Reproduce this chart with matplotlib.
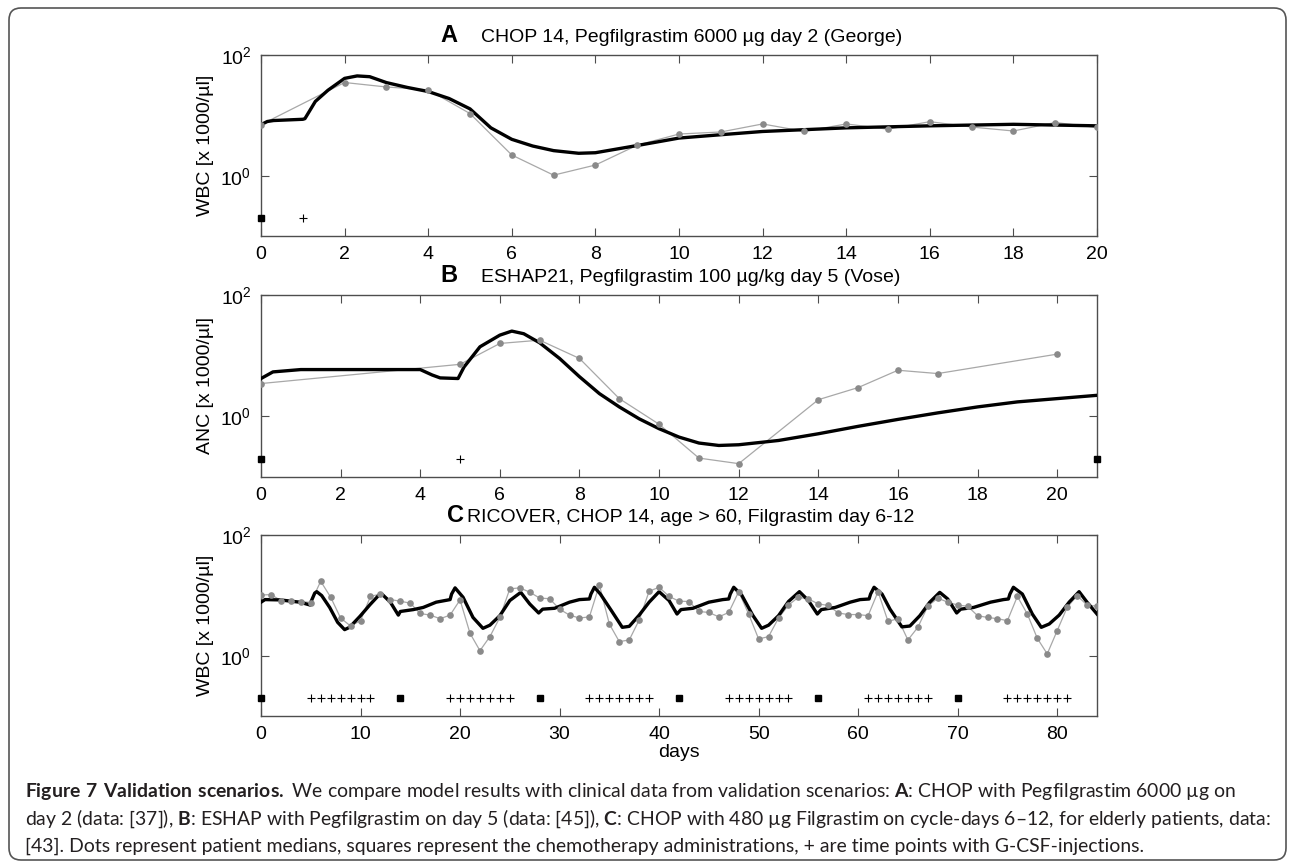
import matplotlib
matplotlib.use('Agg')
import matplotlib.pyplot as plt
from matplotlib.patches import FancyBboxPatch
from matplotlib.transforms import IdentityTransform
from matplotlib.ticker import NullLocator

plt.rcParams['font.family'] = ['Liberation Sans', 'DejaVu Sans']
plt.rcParams['mathtext.default'] = 'regular'
plt.rcParams['mathtext.fontset'] = 'custom'
plt.rcParams['mathtext.rm'] = 'Lato'
plt.rcParams['mathtext.bf'] = 'Lato:bold'

## panel A: CHOP 14 + Pegfilgrastim (George)
a_data_day = [0, 2, 3, 4, 5, 6, 7, 8, 9, 10, 11, 12, 13, 14, 15, 16, 17, 18, 19, 20]
a_data_val = [7.0, 35.0, 29.5, 26.5, 10.7, 2.2, 1.02, 1.5, 3.2, 4.9, 5.3, 7.2, 5.4, 7.2,
              5.9, 7.85, 6.4, 5.5, 7.6, 6.3]
a_model_day = [0, 0.15, 0.3, 1.0, 1.05, 1.3, 1.6, 2.0, 2.3, 2.6, 3.0, 3.5, 4.0, 4.5, 5.0,
               5.5, 6.0, 6.5, 7.0, 7.6, 8.0, 9.0, 10.0, 11.0, 12.0, 14.0, 16.0, 18.0, 20.0]
a_model_val = [7.0, 7.9, 8.2, 8.6, 8.8, 17, 26, 41, 45, 43.7, 34.9, 29, 24.8, 19, 12.8,
               6.2, 4.0, 3.1, 2.6, 2.35, 2.4, 3.16, 4.2, 4.77, 5.4, 6.2, 6.7, 7.1, 6.7]
a_chemo = [0]
a_gcsf = [1]

## panel B: ESHAP21 + Pegfilgrastim (Vose)
b_data_day = [0, 5, 6, 7, 8, 9, 10, 11, 12, 14, 15, 16, 17, 20]
b_data_val = [3.47, 7.2, 15.9, 18.0, 9.0, 1.96, 0.74, 0.205, 0.166, 1.88, 2.98, 5.75, 5.07, 10.6]
b_model_day = [0, 0.3, 1.0, 2.0, 3.0, 4.0, 4.3, 4.5, 4.95, 5.1, 5.5, 6.0, 6.3, 6.6, 7.0,
               7.5, 8.0, 8.5, 9.0, 9.5, 10.0, 10.5, 11.0, 11.5, 12.0, 13.0, 14.0, 15.0,
               16.0, 17.0, 18.0, 19.0, 20.0, 21.0]
b_model_val = [4.2, 5.4, 5.9, 5.9, 5.9, 5.9, 4.8, 4.3, 4.2, 6.5, 14, 21.8, 25.4, 23, 16.3,
               9.0, 4.5, 2.37, 1.43, 0.91, 0.625, 0.455, 0.363, 0.331, 0.34, 0.40, 0.516,
               0.684, 0.89, 1.14, 1.43, 1.73, 1.96, 2.22]
b_chemo = [0, 21]
b_gcsf = [5]

## panel C: RICOVER, CHOP 14, age > 60, Filgrastim day 6-12
c_data_day = list(range(85))
c_data_val = [10.1, 10.3, 8.2, 8.0, 7.9, 7.6, 17.1, 9.3, 4.2, 3.1,
              3.8, 9.6, 10.5, 8.5, 8.0, 7.4, 5.0, 4.7, 4.1, 4.7,
              8.4, 2.35, 1.21, 2.07, 4.3, 12.8, 13.3, 11.3, 9.0, 8.8,
              5.9, 4.7, 4.2, 4.4, 14.9, 3.35, 1.71, 1.82, 3.9, 11.7,
              13.6, 9.6, 8.0, 7.9, 5.4, 5.2, 4.4, 5.2, 11.5, 4.9,
              1.89, 2.07, 4.2, 6.9, 9.3, 8.7, 7.2, 6.8, 5.1, 4.8,
              4.8, 4.6, 11.5, 3.7, 4.1, 1.82, 2.95, 6.6, 9.0, 7.7,
              6.9, 6.6, 4.6, 4.3, 4.1, 3.8, 9.6, 4.9, 1.94, 1.07,
              2.6, 6.3, 9.9, 6.9, 6.6]
c_model_day = [0, 0.4, 1.9, 3.9, 4.95, 5.05, 5.4, 5.6, 6.1, 6.9, 7.7, 8.4, 8.9, 9.95,
               10.95, 11.8, 12.2, 13.0, 13.8, 14.0, 15.3, 16.3, 17.6, 19.0, 19.15, 19.5,
               20.3, 21.3, 22.3, 23.0, 24.0, 25.0, 26.1, 27.0, 27.9, 28.3, 29.5, 31.0,
               32.0, 33.0, 33.15, 33.5, 34.1, 35.2, 36.3, 37.0, 38.0, 39.0, 40.0, 41.0,
               41.8, 42.2, 43.4, 45.0, 46.4, 47.0, 47.15, 47.5, 48.3, 49.4, 50.3, 51.0,
               52.0, 53.0, 54.1, 55.0, 55.9, 56.3, 57.7, 59.2, 60.2, 61.1, 61.25, 61.6,
               62.4, 63.2, 64.4, 65.2, 66.2, 67.2, 68.2, 69.0, 69.9, 70.3, 71.6, 73.3,
               74.6, 75.1, 75.25, 75.6, 76.5, 77.5, 78.4, 79.2, 80.2, 81.2, 82.2, 83.0, 84.0]
c_model_val = [7.7, 8.5, 8.4, 7.7, 6.9, 8.0, 10.9, 11.5, 9.9, 6.3, 3.57, 2.7, 2.95, 4.5,
               7.0, 9.9, 10.3, 7.7, 4.7, 5.4, 5.8, 6.3, 7.7, 8.5, 10.5, 13.3,
               9.3, 4.3, 2.84, 3.2, 4.6, 8.2, 11.2, 7.2, 5.1, 5.9, 6.1, 7.7,
               8.5, 8.7, 10.5, 13.6, 10.5, 5.6, 2.95, 3.06, 4.7, 7.7, 11.5, 8.2,
               4.9, 5.8, 6.1, 7.7, 8.5, 8.7, 10.5, 13.6, 10.1, 4.7, 2.84, 3.2,
               4.6, 7.9, 11.5, 8.2, 4.9, 5.8, 6.3, 7.7, 8.5, 8.7, 10.5, 13.6,
               10.5, 5.9, 3.0, 3.1, 4.6, 7.7, 11.2, 8.7, 5.1, 5.9, 6.3, 7.7,
               8.5, 8.7, 10.5, 13.6, 10.5, 4.9, 2.95, 3.35, 4.7, 7.7, 11.5, 7.7, 4.9]
c_chemo = [0, 14, 28, 42, 56, 70]
c_gcsf = [5, 6, 7, 8, 9, 10, 11, 19, 20, 21, 22, 23, 24, 25, 33, 34, 35, 36, 37, 38, 39,
          47, 48, 49, 50, 51, 52, 53, 61, 62, 63, 64, 65, 66, 67, 75, 76, 77, 78, 79, 80, 81]

panels = [
    ('A', 'CHOP 14, Pegfilgrastim 6000 \u00b5g day 2 (George)', 'WBC [x 1000/\u00b5l]',
     a_data_day, a_data_val, a_model_day, a_model_val, a_chemo, a_gcsf,
     20, list(range(0, 21, 2))),
    ('B', 'ESHAP21, Pegfilgrastim 100 \u00b5g/kg day 5 (Vose)', 'ANC [x 1000/\u00b5l]',
     b_data_day, b_data_val, b_model_day, b_model_val, b_chemo, b_gcsf,
     21, list(range(0, 21, 2))),
    ('C', 'RICOVER, CHOP 14, age > 60, Filgrastim day 6-12', 'WBC [x 1000/\u00b5l]',
     c_data_day, c_data_val, c_model_day, c_model_val, c_chemo, c_gcsf,
     84, list(range(0, 81, 10))),
]

W, H = 1290, 863
fig = plt.figure(figsize=(W / 100, H / 100), dpi=100)

# axes boxes in pixels (top, bottom), title positions
tops = [55, 295, 535]
bottoms = [236, 477, 716]
letter_x = [440, 440, 447]
text_x = [481, 481, 467]
spine_col = '#4d4d4d'

for i, (letter, title, ylab, dd, dv, md, mv, chemo, gcsf, xmax, xt) in enumerate(panels):
    top, bot = tops[i], bottoms[i]
    ax = fig.add_axes([261 / W, 1 - bot / H, 836 / W, (bot - top) / H])
    ax.plot(dd, dv, color='#a8a8a8', lw=0.9, zorder=2)
    ax.plot(md, mv, color='black', lw=2.4, solid_joinstyle='round', zorder=3)
    ax.plot(dd, dv, 'o', color='#8a8a8a', ms=4.8, mec='none', zorder=4)
    ax.plot(chemo, [0.2] * len(chemo), 's', color='black', ms=4.5, clip_on=False, zorder=5)
    ax.plot(gcsf, [0.2] * len(gcsf), '+', color='black', ms=6, mew=0.8, zorder=5)

    ax.set_yscale('log')
    ax.set_ylim(0.1, 100)
    ax.set_xlim(0, xmax)
    ax.set_yticks([1, 100])
    ax.set_yticklabels([r'$\mathregular{10^{0}}$', r'$\mathregular{10^{2}}$'])
    ax.yaxis.set_minor_locator(NullLocator())
    ax.set_xticks(xt)
    ax.tick_params(direction='in', top=True, right=True, length=6, width=0.8,
                   color=spine_col, labelsize=14, pad=7)
    for sp in ax.spines.values():
        sp.set_color(spine_col)
        sp.set_linewidth(1.0)
    ax.set_ylabel(ylab, fontsize=14)
    ax.yaxis.set_label_coords(-0.056, 0.5)
    if letter == 'C':
        ax.set_xlabel('days', fontsize=14, labelpad=1)

    base = top - 13
    fig.text(letter_x[i] / W, 1 - base / H, letter, fontsize=17, fontweight='bold',
             va='baseline', ha='left')
    fig.text(text_x[i] / W, 1 - base / H, title, fontsize=14, va='baseline', ha='left')

# frame around figure + caption
frame = FancyBboxPatch((9, 3), 1277, 852, boxstyle='round,pad=0,rounding_size=12',
                       transform=IdentityTransform(), fill=False, ec='#555555', lw=1.2)
fig.patches.append(frame)

cap_lines = [
    r'$\bf{Figure\ 7\ Validation\ scenarios.}$ We compare model results with clinical data '
    r'from validation scenarios: $\bf{A}$: CHOP with Pegfilgrastim 6000 ' + '\u00b5g on',
    r'day 2 (data: [37]), $\bf{B}$: ESHAP with Pegfilgrastim on day 5 (data: [45]), '
    r'$\bf{C}$: CHOP with 480 ' + '\u00b5g Filgrastim on cycle-days 6\u201312, for elderly patients, data:',
    '[43]. Dots represent patient medians, squares represent the chemotherapy '
    'administrations, + are time points with G-CSF-injections.',
]
cap_base = [797, 825, 852]
renderer = fig.canvas.get_renderer()
widest = 0
for s in cap_lines:
    probe = fig.text(0, 0, s, fontsize=12, family='Lato')
    widest = max(widest, probe.get_window_extent(renderer).width)
    probe.remove()
cap_size = 12 * 1244 / widest
for s, b in zip(cap_lines, cap_base):
    fig.text(25 / W, 1 - b / H, s, fontsize=cap_size, family='Lato', color='#231f20',
             va='baseline', ha='left')

fig.savefig('out.png', dpi=100)
